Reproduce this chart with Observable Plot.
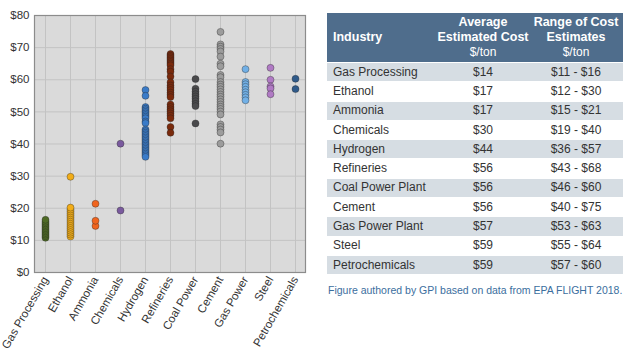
<!DOCTYPE html>
<html>
<head>
<meta charset="utf-8">
<script src="https://cdn.jsdelivr.net/npm/d3@7"></script>
<script src="https://cdn.jsdelivr.net/npm/@observablehq/plot@0.6"></script>
<style>
  html, body { margin: 0; padding: 0; background: #fff; }
  #wrap { position: relative; width: 624px; height: 363px; overflow: hidden; font-family: "Liberation Sans", Arial, sans-serif; }
  #chart { position: absolute; left: 0; top: 0; }
  #tbl { position: absolute; left: 327px; top: 13px; width: 296px; border-collapse: collapse; font-size: 12px; color: #333; }
  #tbl th { background: #4f6d8c; color: #fff; font-weight: bold; font-size: 12.5px; line-height: 15px; padding: 2px 0 2px 0; height: 48px; box-sizing: border-box; }
  #tbl th .u { font-weight: normal; font-size: 12px; }
  #tbl td { height: 19.3px; padding: 0; line-height: 17px; box-sizing: border-box; }
  #tbl tr.s td { background: #d6dde3; border-top: 1px solid #fff; border-bottom: 1px solid #fff; }
  #tbl td.c1 { padding-left: 6px; text-align: left; }
  #tbl td.c2, #tbl td.c3 { text-align: center; }
  #cap { position: absolute; left: 328px; top: 284px; font-size: 10.5px; color: #3b6e9e; }
</style>
</head>
<body>
<div id="wrap">
  <div id="chart"></div>
  <table id="tbl"></table>
  <div id="cap">Figure authored by GPI based on data from EPA FLIGHT 2018.</div>
</div>
<script>
const categories = ["Gas Processing", "Ethanol", "Ammonia", "Chemicals", "Hydrogen", "Refineries", "Coal Power", "Cement", "Gas Power", "Steel", "Petrochemicals"];
const colors = ["#4e6a25", "#f2ad18", "#f0641e", "#7a5a9e", "#3a7bc8", "#7a2a0c", "#4a4a4c", "#9c9c9c", "#72b0e6", "#b07ac4", "#2f5a8a"];

const gasProcessing = [10.8, 11.3, 11.8, 12.3, 12.8, 13.3, 13.8, 14.3, 14.8, 15.3, 15.8, 16.4];
const ethanol = [11.2, 11.8, 12.4, 13, 13.6, 14.2, 14.8, 15.4, 16, 16.6, 17.2, 17.8, 18.4, 19, 19.6, 20.2, 29.8];
const ammonia = [14.5, 16.1, 21.4];
const chemicals = [19.3, 40.1];
const hydrogen = [56.8, 55, 51.5, 51, 50.5, 50, 49.5, 49, 48.5, 48, 47, 46.5, 44.5, 44, 43.5, 43, 42.5, 42, 41.5, 41, 40.5, 40, 39.5, 39, 38.5, 38, 37.5, 37, 36.5, 36];
const refineries = [68, 67.5, 67, 66.5, 66, 65.5, 65, 64.5, 63.3, 62.5, 61, 59.2, 58.2, 57.5, 56.8, 56, 55.3, 54.6, 52.3, 51.5, 50.8, 50.2, 49.5, 48.8, 48, 45.3, 43.5];
const coalPower = [60.2, 57.2, 56.3, 55.5, 54.8, 54.1, 53.3, 52.5, 51.8, 46.4];
const cement = [74.9, 71, 70.3, 69.6, 68.8, 67.2, 65, 64.2, 61.5, 60.8, 59.3, 58.5, 57.8, 57, 56.2, 55.4, 54.7, 53.9, 53.1, 52.3, 51.6, 50.9, 50.1, 49.2, 46.1, 45.3, 44.5, 43.6, 40.1];
const gasPower = [63.3, 59.3, 58.6, 57.8, 56.9, 56.1, 55.3, 54.5, 53.6];
const steel = [63.7, 60, 57.9, 57.3, 55.5];
const petrochemicals = [60.3, 57.1];

const yTicks = [0, 10, 20, 30, 40, 50, 60, 70, 80];

const tableIndustry = ["Gas Processing", "Ethanol", "Ammonia", "Chemicals", "Hydrogen", "Refineries", "Coal Power Plant", "Cement", "Gas Power Plant", "Steel", "Petrochemicals"];
const tableAverage = ["$14", "$17", "$17", "$30", "$44", "$56", "$56", "$56", "$57", "$59", "$59"];
const tableRange = ["$11 - $16", "$12 - $30", "$15 - $21", "$19 - $40", "$36 - $57", "$43 - $68", "$46 - $60", "$40 - $75", "$53 - $63", "$55 - $64", "$57 - $60"];

const series = [gasProcessing, ethanol, ammonia, chemicals, hydrogen, refineries, coalPower, cement, gasPower, steel, petrochemicals];
const data = series.flatMap((vals, i) => vals.map(v => ({industry: categories[i], cost: v})));

const chart = Plot.plot({
  width: 312,
  height: 363,
  marginLeft: 34,
  marginRight: 7,
  marginTop: 15,
  marginBottom: 91,
  style: {fontFamily: "'Liberation Sans', Arial, sans-serif", fontSize: "11.5px", color: "#333", background: "transparent"},
  x: {type: "point", domain: categories, padding: 0.37, label: null, tickRotate: -60, tickSize: 0, tickPadding: 5},
  y: {domain: [0, 80], ticks: yTicks, tickFormat: d => "$" + d, label: null, tickSize: 0, tickPadding: 5},
  color: {domain: categories, range: colors},
  marks: [
    Plot.frame({fill: "#dadada", stroke: null}),
    Plot.gridY(yTicks, {stroke: "#c3c3c3", strokeOpacity: 1}),
    Plot.gridX(categories, {stroke: "#c3c3c3", strokeOpacity: 1}),
    Plot.dot(data, {x: "industry", y: "cost", fill: "industry", r: 3.5, stroke: "#222", strokeOpacity: 0.45, strokeWidth: 0.8}),
    Plot.frame({stroke: "#8c8c8c", strokeWidth: 1.2})
  ]
});
document.getElementById("chart").appendChild(chart);

const tbl = document.getElementById("tbl");
let html = '<tr><th style="text-align:left;padding-left:6px;width:110px">Industry</th>' +
  '<th style="width:92px">Average<br>Estimated Cost<br><span class="u">$/ton</span></th>' +
  '<th>Range of Cost<br>Estimates<br><span class="u">$/ton</span></th></tr>';
tableIndustry.forEach((name, i) => {
  html += `<tr class="${i % 2 === 0 ? "s" : ""}"><td class="c1">${name}</td><td class="c2">${tableAverage[i]}</td><td class="c3">${tableRange[i]}</td></tr>`;
});
tbl.innerHTML = html;
</script>
</body>
</html>
